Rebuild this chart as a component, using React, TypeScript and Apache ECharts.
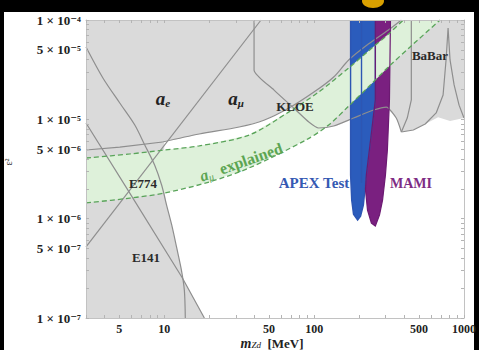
import React, { useEffect, useRef } from 'react';
import * as echarts from 'echarts';

type P = [number, number];

// axis ranges (mass in MeV, epsilon^2)
const X_RANGE: P = [3, 1000];
const Y_RANGE: P = [1e-7, 1e-4];
const xTickValues = [5, 10, 50, 100, 500, 1000];
const yTickValues = [1e-4, 5e-5, 1e-5, 5e-6, 1e-6, 5e-7, 1e-7];
const yTickLabels = ['1 × 10⁻⁴', '5 × 10⁻⁵', '1 × 10⁻⁵', '5 × 10⁻⁶', '1 × 10⁻⁶', '5 × 10⁻⁷', '1 × 10⁻⁷'];

// union of excluded regions (a_e, a_mu, KLOE, BaBar, E774, E141)
const excludedRegion: P[] = [
  [3, 1e-4], [1000, 1e-4], [1000, 1.03e-5], [807, 9.6e-6], [672, 1.05e-5], [551, 8.97e-6], [459, 7.81e-6],
  [382, 7.45e-6], [353, 1.03e-5], [303, 1.33e-5], [249, 1.24e-5], [183, 1.03e-5], [135, 8.57e-6],
  [107, 8.18e-6], [92.1, 9.4e-6], [75.5, 1.24e-5], [67.9, 1.3e-5], [46.2, 9.8e-6], [31.6, 8.37e-6],
  [17.1, 7.12e-6], [10.0, 5.91e-6], [9.88, 2.18e-6], [10.35, 1.37e-6], [11.2, 8.64e-7],
  [12.1, 5.07e-7], [13.0, 3.04e-7], [13.2, 2.53e-7], [18.5, 1e-7], [3, 1e-7],
];

// boundary curves of the individual constraints
const aeCurve: P[] = [[3, 4.91e-6], [5.04, 5.26e-6], [9.73, 5.91e-6]];
const amuCurve: P[] = [
  [9.73, 5.91e-6], [17.1, 7.12e-6], [31.6, 8.37e-6], [46.2, 9.8e-6], [67.9, 1.3e-5], [99.6, 1.88e-5],
  [135, 2.67e-5], [170, 3.96e-5], [230, 5.73e-5], [313, 7.93e-5], [382, 1e-4],
];
const kloeCurve: P[] = [
  [39.7, 1e-4], [39.7, 3.14e-5], [54, 1.97e-5], [75.5, 1.24e-5], [92.1, 9.4e-6], [107, 8.18e-6],
  [135, 8.57e-6], [183, 1.03e-5], [249, 1.24e-5], [303, 1.33e-5], [353, 1.03e-5], [382, 7.45e-6],
];
const babarEdge: P[] = [[445, 1e-4], [445, 1.57e-5], [418, 1.03e-5], [382, 7.45e-6]];
const babarCurve: P[] = [
  [382, 7.45e-6], [459, 7.81e-6], [551, 8.97e-6], [652, 1.16e-5], [725, 1.76e-5], [759, 3.96e-5],
  [783, 8.3e-5], [807, 3.96e-5], [859, 2.22e-5], [927, 1.39e-5], [1000, 1.03e-5],
];
const e774Curve: P[] = [
  [3, 5.35e-5], [3.89, 2.61e-5], [5.04, 1.46e-5], [6.35, 8.77e-6], [7.4, 5.52e-6], [8.61, 3.47e-6],
  [9.59, 2.18e-6], [10.35, 1.37e-6], [11.2, 8.64e-7], [12.1, 5.07e-7], [13.0, 3.04e-7],
  [13.6, 1.91e-7], [13.8, 1e-7],
];
const e141Curve: P[] = [[3, 9.19e-6], [5.7, 1.95e-6], [13.2, 2.53e-7], [18.5, 1e-7]];
const e137Curve: P[] = [[3, 5.19e-7], [44.2, 1e-4]];

// a_mu explained band
const bandUpper: P[] = [
  [3, 4.08e-6], [5.88, 4.48e-6], [10.0, 4.91e-6], [17.1, 5.4e-6], [36.8, 6.95e-6], [67.9, 1.19e-5],
  [107, 1.88e-5], [170, 3.29e-5], [230, 4.87e-5], [313, 7.23e-5], [394, 1e-4],
];
const bandLower: P[] = [
  [3, 1.44e-6], [5.88, 1.61e-6], [10.0, 1.81e-6], [19.9, 2.34e-6], [36.8, 3.24e-6], [88, 6.19e-6],
  [125, 8.77e-6], [170, 1.36e-5], [230, 2.12e-5], [313, 3.37e-5], [459, 5.73e-5], [693, 1e-4],
];

// APEX test run and MAMI exclusion
const apexRegion: P[] = [
  [175, 1e-4], [256, 1e-4], [256, 1.57e-5], [238, 6.19e-6], [223, 2.75e-6], [213, 1.37e-6],
  [204, 1.06e-6], [195, 9.7e-7], [183, 1.11e-6], [178, 1.54e-6], [175, 2.75e-6],
];
const apexInner: P[] = [[207, 1e-4], [207, 2.3e-6]];
const mamiRegion: P[] = [
  [256, 1e-4], [323, 1e-4], [318, 1.57e-5], [308, 4.91e-6], [299, 2.75e-6], [286, 1.54e-6],
  [273, 1.09e-6], [256, 8.44e-7], [241, 9.04e-7], [227, 1.22e-6], [220, 1.95e-6], [223, 2.75e-6],
  [238, 6.19e-6], [256, 1.57e-5],
];

const SERIF = "'Liberation Serif', 'DejaVu Serif', serif";
const L = (pts: P[]) => pts.map(([m, e]) => [Math.log10(m), Math.log10(e)]);

function polygonSeries(pts: P[], fill: string, z: number, stroke = 'none', lineWidth = 0) {
  const data = L(pts);
  return {
    type: 'custom',
    coordinateSystem: 'cartesian2d',
    silent: true,
    clip: true,
    z,
    data: [data[0]],
    renderItem: (_p: any, api: any) => ({
      type: 'polygon',
      shape: { points: data.map((q) => api.coord(q)) },
      style: { fill, stroke, lineWidth },
    }),
  };
}

function lineSeries(pts: P[], color: string, width: number, z: number, type: any = 'solid', smooth: any = false) {
  return {
    type: 'line',
    data: L(pts),
    symbol: 'none',
    silent: true,
    clip: true,
    smooth,
    z,
    lineStyle: { color, width, type },
  };
}

function buildOption() {
  const xMinor: number[] = [];
  for (const d of [1, 10, 100]) for (let k = 1; k <= 9; k++) { const v = k * d; if (v >= 3) xMinor.push(Math.log10(v)); }
  xMinor.push(3);
  const yMinor: number[] = [];
  for (const d of [1e-7, 1e-6, 1e-5]) for (let k = 1; k <= 9; k++) yMinor.push(Math.log10(k * d));
  yMinor.push(-4);

  const frame = { color: '#c2c2c2', width: 1 };
  const tick = { show: true, inside: true, length: 3, lineStyle: { color: '#b4b4b4' } };
  const xBase = { type: 'value', min: Math.log10(X_RANGE[0]), max: Math.log10(X_RANGE[1]), z: 20, splitLine: { show: false } };
  const yBase = { type: 'value', min: Math.log10(Y_RANGE[0]), max: Math.log10(Y_RANGE[1]), z: 20, splitLine: { show: false } };

  const gray = '#8e8e8e';
  const label = (t: string, x: number, y: number, size: number, fill: string) => ({
    type: 'text', z: 100, x, y, silent: true,
    style: { text: t, align: 'center', verticalAlign: 'middle', fontSize: size, fontWeight: 'bold', fontFamily: SERIF, fill },
  });
  const subLabel = (sub: string, x: number, y: number) => ({
    type: 'text', z: 100, x, y, silent: true,
    style: {
      text: `{a|a}{s|${sub}}`, align: 'center', verticalAlign: 'middle', fill: '#222',
      rich: {
        a: { fontSize: 19, fontStyle: 'italic', fontWeight: 'bold', fontFamily: SERIF, lineHeight: 20, fill: '#222' },
        s: { fontSize: 11, fontStyle: 'italic', fontWeight: 'bold', fontFamily: SERIF, lineHeight: 11, verticalAlign: 'bottom', fill: '#222' },
      },
    },
  });

  return {
    animation: false,
    backgroundColor: '#000',
    grid: { left: 86, right: 13, top: 20, bottom: 32 },
    xAxis: [
      {
        ...xBase, position: 'bottom',
        axisLine: { show: true, onZero: false, lineStyle: frame },
        axisTick: { ...tick, customValues: xMinor },
        axisLabel: {
          customValues: xTickValues.map(Math.log10),
          formatter: (v: number) => String(Math.round(Math.pow(10, v))),
          color: '#222', fontSize: 12, fontWeight: 'bold', fontFamily: SERIF, margin: 5,
        },
      },
      {
        ...xBase, position: 'top',
        axisLine: { show: true, onZero: false, lineStyle: frame },
        axisTick: { ...tick, customValues: xMinor },
        axisLabel: { show: false },
      },
    ],
    yAxis: [
      {
        ...yBase, position: 'left',
        axisLine: { show: true, onZero: false, lineStyle: frame },
        axisTick: { ...tick, customValues: yMinor },
        axisLabel: {
          customValues: yTickValues.map(Math.log10),
          formatter: (v: number) => {
            const i = yTickValues.findIndex((t) => Math.abs(Math.log10(t) - v) < 1e-6);
            return i >= 0 ? yTickLabels[i] : '';
          },
          color: '#222', fontSize: 13, fontWeight: 'bold', fontFamily: SERIF, margin: 5,
        },
      },
      {
        ...yBase, position: 'right',
        axisLine: { show: true, onZero: false, lineStyle: frame },
        axisTick: { ...tick, customValues: yMinor },
        axisLabel: { show: false },
      },
    ],
    series: [
      polygonSeries(excludedRegion, '#dadada', 2),
      polygonSeries(apexRegion, '#2b5cbc', 3),
      polygonSeries(mamiRegion, '#7a2080', 4),
      polygonSeries([...bandUpper, ...bandLower.slice().reverse()], '#def1da', 5),
      lineSeries(aeCurve, gray, 1.2, 6),
      lineSeries(amuCurve, gray, 1.2, 6, 'solid', 0.3),
      lineSeries(kloeCurve, gray, 1.2, 6, 'solid', 0.2),
      lineSeries(babarEdge, gray, 1.2, 6),
      lineSeries(babarCurve, gray, 1.2, 6),
      lineSeries(e774Curve, gray, 1.2, 6, 'solid', 0.3),
      lineSeries(e141Curve, gray, 1.2, 6),
      lineSeries(e137Curve, gray, 1.2, 6),
      polygonSeries(apexRegion, 'none', 7, '#2d56b3', 1.4),
      lineSeries(apexInner, '#2d56b3', 1.4, 7),
      polygonSeries(mamiRegion, 'none', 7, '#6c1a72', 1.2),
      lineSeries(bandUpper, '#5aa45a', 1.3, 8, [5, 3], 0.3),
      lineSeries(bandLower, '#5aa45a', 1.3, 8, [5, 3], 0.3),
    ],
    graphic: [
      { type: 'rect', z: -5, silent: true, shape: { x: 4, y: 12, width: 470, height: 338 }, style: { fill: '#fff' } },
      { type: 'ellipse', z: -4, silent: true, shape: { cx: 373, cy: 1, rx: 11, ry: 7 }, style: { fill: '#d9a000' } },
      subLabel('e', 163, 98),
      subLabel('μ', 236, 98),
      label('KLOE', 295, 106, 13, '#2a2a2a'),
      label('BaBar', 430, 55, 13, '#2a2a2a'),
      label('E774', 143, 183, 13, '#2a2a2a'),
      label('E141', 146, 257, 13, '#2a2a2a'),
      label('APEX Test', 314, 183, 15, '#3559b3'),
      label('MAMI', 411, 183, 14, '#7e2c84'),
      {
        type: 'text', z: 100, x: 241, y: 162, rotation: 0.34, silent: true,
        style: {
          text: '{a|a}{s|μ}{n|  explained}', align: 'center', verticalAlign: 'middle',
          rich: {
            a: { fontSize: 16, fontStyle: 'italic', fontWeight: 'bold', fontFamily: SERIF, lineHeight: 18, fill: '#5ca552' },
            s: { fontSize: 10, fontStyle: 'italic', fontFamily: SERIF, lineHeight: 10, verticalAlign: 'bottom', fill: '#5ca552' },
            n: { fontSize: 16, fontWeight: 'bold', fontFamily: SERIF, lineHeight: 18, fill: '#5ca552' },
          },
        },
      },
      {
        type: 'text', z: 100, x: 272, y: 343, silent: true,
        style: {
          text: '{m|m}{s|Zd}{n|  [MeV]}', align: 'center', verticalAlign: 'middle',
          rich: {
            m: { fontSize: 14, fontStyle: 'italic', fontWeight: 'bold', fontFamily: SERIF, lineHeight: 12, fill: '#222' },
            s: { fontSize: 9, fontStyle: 'italic', fontFamily: SERIF, lineHeight: 8, verticalAlign: 'bottom', fill: '#222' },
            n: { fontSize: 13, fontWeight: 'bold', fontFamily: SERIF, lineHeight: 12, fill: '#222' },
          },
        },
      },
      {
        type: 'text', z: 100, x: 8, y: 162, rotation: Math.PI / 2, silent: true,
        style: { text: 'ε²', align: 'center', verticalAlign: 'middle', fontSize: 10, fontFamily: SERIF, fill: '#333' },
      },
    ],
  };
}

export default function App() {
  const ref = useRef<HTMLDivElement>(null);
  useEffect(() => {
    const chart = echarts.init(ref.current!, null, { renderer: 'svg' });
    chart.setOption(buildOption() as any);
    return () => chart.dispose();
  }, []);
  return <div ref={ref} style={{ position: 'absolute', left: 0, top: 0, width: 479, height: 350 }} />;
}
